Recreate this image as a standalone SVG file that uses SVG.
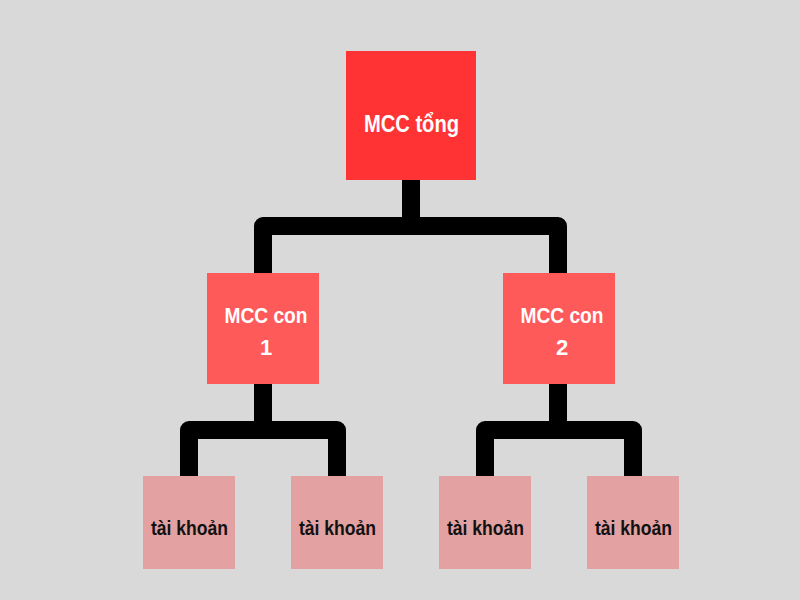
<svg xmlns="http://www.w3.org/2000/svg" width="800" height="600" viewBox="0 0 800 600">
<style>
.bg{fill:#D9D9D9}
.conn{fill:none;stroke:#000;stroke-width:18;stroke-linejoin:round}
.top{fill:#FF3333}
.mid{fill:#FF5A5A}
.leaf{fill:#E4A1A1}
text{font-family:"Liberation Sans","DejaVu Sans",sans-serif;font-weight:bold;text-anchor:middle}
.wt{fill:#fff}
.bt{fill:#111;font-size:21px}
</style>
<rect class="bg" x="0" y="0" width="800" height="600"/>
<g id="connectors">
<path class="conn" d="M411,180 V226"/>
<path class="conn" d="M263,273 V226 H558 V273"/>
<path class="conn" d="M263,384 V430"/>
<path class="conn" d="M189,476 V430 H337 V476"/>
<path class="conn" d="M558,384 V430"/>
<path class="conn" d="M485,476 V430 H633 V476"/>
</g>
<g id="mcc-tong">
<rect class="top" x="346" y="51" width="130" height="129"/>
<text class="wt" x="411.5" y="132" font-size="24" textLength="95" lengthAdjust="spacingAndGlyphs">MCC tổng</text>
</g>
<g id="mcc-con-1">
<rect class="mid" x="207" y="273" width="112" height="111"/>
<text class="wt" x="266" y="323" font-size="22" textLength="83" lengthAdjust="spacingAndGlyphs">MCC con</text>
<text class="wt" x="266" y="355" font-size="22">1</text>
</g>
<g id="mcc-con-2">
<rect class="mid" x="503" y="273" width="112" height="111"/>
<text class="wt" x="562" y="323" font-size="22" textLength="83" lengthAdjust="spacingAndGlyphs">MCC con</text>
<text class="wt" x="562" y="355" font-size="22">2</text>
</g>
<g id="tai-khoan-1">
<rect class="leaf" x="143" y="476" width="92" height="93"/>
<text class="bt" x="189.5" y="535" textLength="77" lengthAdjust="spacingAndGlyphs">tài khoản</text>
</g>
<g id="tai-khoan-2">
<rect class="leaf" x="291" y="476" width="92" height="93"/>
<text class="bt" x="337.5" y="535" textLength="77" lengthAdjust="spacingAndGlyphs">tài khoản</text>
</g>
<g id="tai-khoan-3">
<rect class="leaf" x="439" y="476" width="92" height="93"/>
<text class="bt" x="485.5" y="535" textLength="77" lengthAdjust="spacingAndGlyphs">tài khoản</text>
</g>
<g id="tai-khoan-4">
<rect class="leaf" x="587" y="476" width="92" height="93"/>
<text class="bt" x="633.5" y="535" textLength="77" lengthAdjust="spacingAndGlyphs">tài khoản</text>
</g>
</svg>
